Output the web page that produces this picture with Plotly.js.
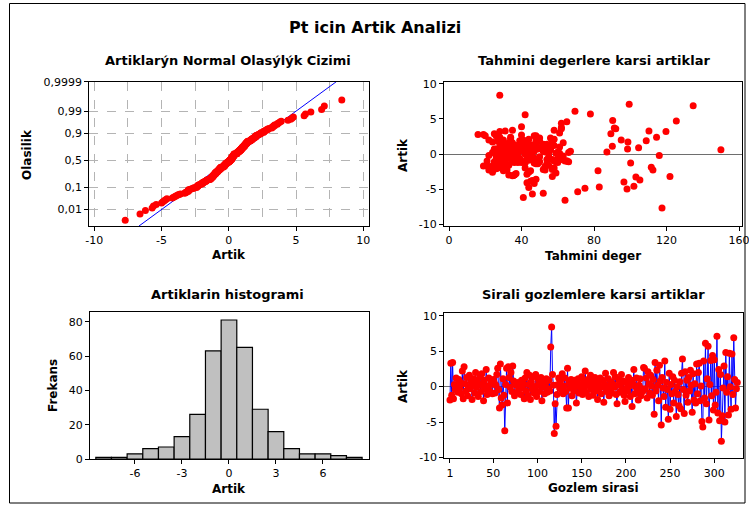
<!DOCTYPE html>
<html>
<head>
<meta charset="utf-8">
<script src="https://cdn.plot.ly/plotly-3.0.1.min.js"></script>
<style>html,body{margin:0;padding:0;background:#fff;}#chart{width:749px;height:506px;}</style>
</head>
<body>
<div id="chart"></div>
<script>
// Residuals in observation order
const residuals = [
-1.9, 3.3, -1.2, 3.4, -1.7, 0.3, -0.4, 1.2, 0.1, -0.8,
1.0, -0.2, 0.6, -1.0, 2.2, -1.7, 2.8, 0.4, -0.6, 1.3,
-1.3, 0.0, 1.6, -0.3, 0.8, -1.8, 0.2, 1.1, -0.9, 2.0,
-0.1, 0.7, -1.4, 0.4, 1.4, -0.7, 1.8, 0.2, -2.0, 0.9,
-0.3, 2.4, -1.1, 0.1, 1.2, -0.6, 0.3, 0.7, -1.0, 1.0,
0.6, -0.9, 0.2, 1.7, 2.6, -0.4, -3.0, 3.2, -1.6, -2.6,
1.1, -1.2, -6.2, 0.3, 2.6, -2.3, 2.8, 1.3, -0.1, 2.0,
-0.7, 2.9, 0.8, -1.3, 0.4,
0.2, -0.8, 0.6, -0.3, 0.1, -1.1, 0.9, -0.2, 0.4, -1.7,
1.2, -0.6, 2.0, -1.2, 0.3, 1.6, -1.8, 0.7, -0.4, 1.4,
-0.9, 0.0, 1.7, -1.4, 0.2, 1.0, -0.7, 0.3, 1.3, -2.0,
-0.1, 0.8, -1.0, 0.4, 1.1, -0.8, -0.3,
0.9, -0.6, 5.6, 8.4, 1.7, 0.2, -6.6, -2.4, -5.6, -1.1, 0.3, 1.2, -0.2,
0.8, -0.4, 1.8, -1.0, 0.1, 1.2, -0.7, -3.0, 2.6, -3.0,
0.6, -0.2, 1.0, -1.3, 0.3, -0.6, 0.9, 0.0, -2.3, 0.4,
1.1, -0.9, 0.2, -0.3, 1.4, -1.1, 0.7, -0.1, 2.2, -0.8,
0.3, 1.0, -1.4, 0.1, 1.6, -0.4, 0.8, -1.2, 0.2, 1.3,
-0.6, 0.4, -1.8, 0.6, -0.2, 1.2, -1.0, 0.0, 0.9, -2.2,
0.3, 1.9, -0.7, 0.1, 1.1, -1.3, -0.3, 0.7, -0.9, 0.4,
2.0, -0.1, 1.4, -1.1, -2.4, 0.2, 1.0, -0.8, 0.3, 1.7,
-0.4, 0.8, -1.2, -2.1, 0.6, -0.2, -0.6, 1.3, 0.1, -1.4,
0.9, -2.8, 0.4, 2.4, -1.0, 0.0, 1.2, -0.7, -1.9, 0.2,
1.1, -1.3, -0.3, -0.7, 2.7,
2.6, -0.3, 1.2, -1.6, 2.1, 0.4, -0.9, 1.6, 0.1, -1.2,
1.0, -3.9, 3.4, -0.6, 2.3, 0.2, -2.0, 3.0, 0.8, -5.4,
1.3, -0.2, -1.4, 3.6, -2.9, 0.6, -0.4, -4.6, 1.9, -3.2,
0.3, -1.0, 1.4, -2.3, 0.9, -0.7, -4.2, 0.0, -1.1, -2.7,
0.7, -3.1, 1.9, 3.9, -0.4, -3.8, 2.1, -1.2, 0.9, -2.2,
1.3, -0.6, 2.3, 0.2, -3.6, 1.8, -1.9, 0.4, -2.3, 3.2,
-1.0, 2.0, 3.3, -2.0, 0.1, -4.9, -5.7, 3.6, -1.6, 6.1,
-2.4, 1.1, 5.7, -4.7, 0.3, 3.7, -1.3, 4.4, -3.3, 3.8,
-2.6, -0.8, 7.1, -3.7, 2.4, -4.8, 1.7, -7.7, -4.1, -0.2,
2.9, -5.0, 4.8, -0.8, 1.4, -4.0, 4.7, 0.0, -3.2, 4.6,
-1.1, 6.9, 1.0, -3.0, -0.3, 0.6
];

// Fitted values (Tahmini deger), same order
const fitted = [
24,31,28,35,19,33,27,42,30,26,
38,22,45,29,34,21,16,36,31,48,
25,33,40,28,52,23,37,30,44,27,
32,56,26,39,31,47,29,35,23,41,
34,28,50,30,36,43,27,33,58,31,
45,29,38,34,20,31,36,28,33,24,
46,30,41,27,26,22,19,39,32,30,
48,25,43,29,37,
33,27,44,30,36,25,51,29,38,31,
47,34,22,40,28,35,53,26,32,42,
30,37,24,49,33,28,55,31,39,27,
44,34,21,36,46,29,32,
35,47,42,28,57,33,64,45,52,38,60,31,43,
34,50,27,40,31,58,29,36,48,33,
25,44,38,30,53,27,35,42,32,46,
29,37,55,26,39,31,49,34,28,43,
36,61,30,45,33,27,51,38,24,40,
35,47,29,56,32,37,26,44,31,52,
28,39,34,59,30,42,36,25,48,33,
41,27,54,35,30,46,38,62,29,43,
32,50,36,26,45,33,39,57,31,48,
28,37,44,34,65,30,41,35,53,29,
38,47,32,60,40,
47,36,55,31,44,52,38,63,33,49,
40,45,58,35,50,29,42,61,37,71,
46,34,54,62,43,39,30,102,48,57,
36,65,41,53,32,44,47,38,66,59,
98.5,35,108.8,40,55,46,58,60,104.6,57,
45,62,56,66,48,50,111.6,67,112.5,119.7,
64,95,110.3,58,61,75,46,92,55,69.5,
82.2,90.1,78,82.9,87.1,91.2,100.2,62,103.1,62,
44,54,99.4,105.3,114.5,44,98.7,117.5,43,116,
89.3,98.2,90.3,57,52,96.5,125.4,60,121.9,65,
59,134.7,53,36,63,150
];

// Tick labels
const probTicks = [0.01, 0.1, 0.5, 0.9, 0.99, 0.9999];
const probTickText = ['0,01', '0,1', '0,5', '0,9', '0,99', '0,9999'];
const npXTicks = [-10, -5, 0, 5, 10];
const npXTickText = ['-10', '-5', '0', '5', '10'];
const resTicks = [-10, -5, 0, 5, 10];
const resTickText = ['-10', '-5', '0', '5', '10'];
const fitTicks = [0, 40, 80, 120, 160];
const histXTicks = [-6, -3, 0, 3, 6];
const histXTickText = ['-6', '-3', '0', '3', '6'];
const histYTicks = [0, 20, 40, 60, 80];
const orderTicks = [1, 50, 100, 150, 200, 250, 300];

// inverse normal CDF (Acklam)
function qnorm(p) {
  const a = [-3.969683028665376e+01, 2.209460984245205e+02, -2.759285104469687e+02, 1.383577518672690e+02, -3.066479806614716e+01, 2.506628277459239e+00];
  const b = [-5.447609879822406e+01, 1.615858368580409e+02, -1.556989798598866e+02, 6.680131188771972e+01, -1.328068155288572e+01];
  const c = [-7.784894002430293e-03, -3.223964580411365e-01, -2.400758277161838e+00, -2.549732539343734e+00, 4.374664141464968e+00, 2.938163982698783e+00];
  const d = [7.784695709041462e-03, 3.224671290700398e-01, 2.445134137142996e+00, 3.754408661907416e+00];
  const pl = 0.02425, ph = 1 - pl;
  let q, r;
  if (p < pl) { q = Math.sqrt(-2 * Math.log(p)); return (((((c[0]*q+c[1])*q+c[2])*q+c[3])*q+c[4])*q+c[5]) / ((((d[0]*q+d[1])*q+d[2])*q+d[3])*q+1); }
  if (p <= ph) { q = p - 0.5; r = q*q; return (((((a[0]*r+a[1])*r+a[2])*r+a[3])*r+a[4])*r+a[5])*q / (((((b[0]*r+b[1])*r+b[2])*r+b[3])*r+b[4])*r+1); }
  q = Math.sqrt(-2 * Math.log(1 - p));
  return -(((((c[0]*q+c[1])*q+c[2])*q+c[3])*q+c[4])*q+c[5]) / ((((d[0]*q+d[1])*q+d[2])*q+d[3])*q+1);
}

const n = residuals.length;
const order = residuals.map((_, i) => i + 1);
const sorted = residuals.slice().sort((a, b) => a - b);
const zScores = sorted.map((_, i) => qnorm((i + 1 - 0.3) / (n + 0.4)));
const mean = residuals.reduce((s, v) => s + v, 0) / n;
const sd = Math.sqrt(residuals.reduce((s, v) => s + (v - mean) * (v - mean), 0) / (n - 1));
const zRange = [-3.13, 3.72];

const RED = '#ff0000', BLUE = '#0000ff';
const FONT = 'DejaVu Sans';
const tickFont = {family: FONT, size: 11, color: '#000'};

function axisBase(extra) {
  return Object.assign({
    showline: true, linecolor: '#000', linewidth: 1, mirror: true,
    ticks: 'outside', ticklen: 4, tickcolor: '#000', tickwidth: 1,
    tickfont: tickFont, showgrid: false, zeroline: false, fixedrange: true,
    ticklabeloverflow: 'allow'
  }, extra);
}

const traces = [
  // Normal probability plot
  {x: [mean + sd * zRange[0], mean + sd * zRange[1]], y: zRange, xaxis: 'x', yaxis: 'y',
   mode: 'lines', line: {color: BLUE, width: 1}, hoverinfo: 'skip'},
  {x: sorted, y: zScores, xaxis: 'x', yaxis: 'y', mode: 'markers',
   marker: {color: RED, size: 7}},
  // Residuals vs fitted
  {x: fitted, y: residuals, xaxis: 'x2', yaxis: 'y2', mode: 'markers',
   marker: {color: RED, size: 7}},
  // Histogram
  {x: residuals, type: 'histogram', xaxis: 'x3', yaxis: 'y3',
   xbins: {start: -8.5, end: 8.5, size: 1},
   marker: {color: '#c0c0c0', line: {color: '#000', width: 1.2}}},
  // Residuals vs order
  {x: order, y: residuals, xaxis: 'x4', yaxis: 'y4', mode: 'lines+markers',
   line: {color: BLUE, width: 1}, marker: {color: RED, size: 7}}
];

const W = 749, H = 506;
const px = v => v / W;
const py = v => 1 - v / H;

function ann(text, x, y, size, angle) {
  return {text: '<b>' + text + '</b>', x: px(x), y: py(y), xref: 'paper', yref: 'paper',
          xanchor: 'center', yanchor: 'middle', showarrow: false, textangle: angle || 0,
          font: {family: FONT, size: size, color: '#000'}};
}

const gridStyle = {showgrid: true, gridcolor: '#b4b4b4', gridwidth: 1, griddash: 'dash'};

const layout = {
  width: W, height: H,
  margin: {l: 0, r: 0, t: 0, b: 0},
  paper_bgcolor: '#fff', plot_bgcolor: '#fff',
  showlegend: false, bargap: 0,
  xaxis: axisBase(Object.assign({domain: [px(89.3), px(368.7)], range: [-10.37, 10.4], anchor: 'y',
    tickvals: npXTicks, ticktext: npXTickText,
    minor: {dtick: 2.5, tick0: 0, showgrid: true, gridcolor: '#b4b4b4', griddash: 'dash', ticks: ''}}, gridStyle)),
  yaxis: axisBase(Object.assign({domain: [py(226), py(81.7)], range: zRange, anchor: 'x',
    tickvals: probTicks.map(qnorm), ticktext: probTickText}, gridStyle)),
  xaxis2: axisBase({domain: [px(444), px(742.3)], range: [-2.76, 161.8], anchor: 'y2',
    tickvals: fitTicks}),
  yaxis2: axisBase({domain: [py(225.7), py(82.3)], range: [-10.24, 10.24], anchor: 'x2',
    tickvals: resTicks, ticktext: resTickText,
    zeroline: true, zerolinecolor: '#6e6e6e', zerolinewidth: 1}),
  xaxis3: axisBase({domain: [px(90), px(368.7)], range: [-8.87, 8.92], anchor: 'y3',
    tickvals: histXTicks, ticktext: histXTickText}),
  yaxis3: axisBase({domain: [py(459), py(312.3)], range: [0, 85.5], anchor: 'x3',
    tickvals: histYTicks}),
  xaxis4: axisBase({domain: [px(444.3), px(743.3)], range: [-5.4, 332.8], anchor: 'y4',
    tickvals: orderTicks}),
  yaxis4: axisBase({domain: [py(458.3), py(312.7)], range: [-10.1, 10.42], anchor: 'x4',
    tickvals: resTicks, ticktext: resTickText,
    zeroline: true, zerolinecolor: '#6e6e6e', zerolinewidth: 1}),
  shapes: [
    {type: 'rect', xref: 'paper', yref: 'paper', x0: px(9.5), x1: px(745), y0: py(503), y1: py(3.5),
     line: {color: '#000', width: 1}, fillcolor: 'rgba(0,0,0,0)'}
  ],
  annotations: [
    ann('Pt icin Artik Analizi', 375, 27, 16),
    ann('Artiklarýn Normal Olasýlýk Cizimi', 228, 61, 13),
    ann('Tahmini degerlere karsi artiklar', 593.5, 61, 13),
    ann('Artiklarin histogrami', 227, 294, 13),
    ann('Sirali gozlemlere karsi artiklar', 593, 294, 13),
    ann('Artik', 229, 255, 12),
    ann('Olasilik', 27, 155, 12, -90),
    ann('Tahmini deger', 593, 256, 12),
    ann('Artik', 403, 155, 12, -90),
    ann('Frekans', 53, 386, 12, -90),
    ann('Artik', 229, 489, 12),
    ann('Artik', 403, 386, 12, -90),
    ann('Gozlem sirasi', 593, 488, 12)
  ]
};

Plotly.newPlot('chart', traces, layout, {staticPlot: true, displayModeBar: false});
</script>
</body>
</html>
